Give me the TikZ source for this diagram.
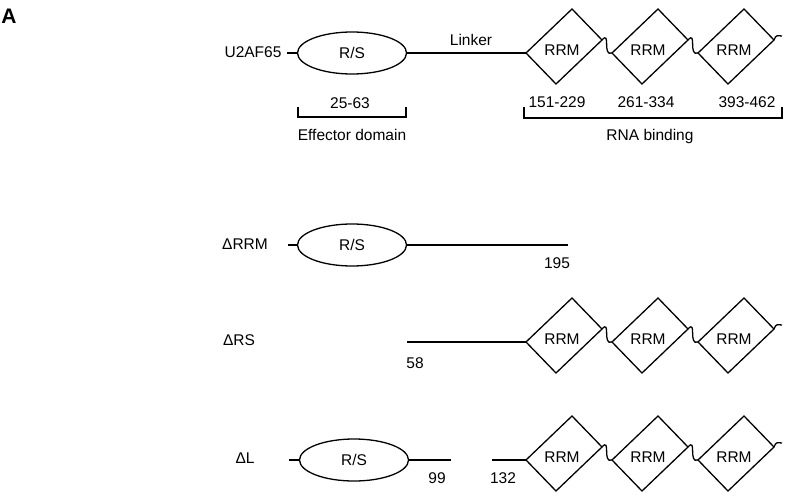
\documentclass[tikz,border=0pt]{standalone}
\usepackage{fontspec}
\setmainfont{Liberation Sans}
\usetikzlibrary{shapes.geometric}
\tikzset{
  every node/.style={inner sep=0pt, font=\fontsize{15.5}{18}\selectfont},
  rsdomain/.style={draw, ellipse, minimum width=109pt, minimum height=42pt},
}
\begin{document}
\begin{tikzpicture}[x=1pt, y=-1pt, line width=1.3pt]
	\useasboundingbox (0,0) rectangle (800,500);
	\node[font=\fontsize{21}{24}\selectfont\bfseries] (panel) at (9,16) {A};
	\foreach \row/\yy in {u/53, s/342, l/460} {
		\foreach \k/\xx in {1/526, 2/612, 3/698} {
			\coordinate (\row\k) at (\xx,\yy);
			\draw (\row\k) -- ++(46,-44) -- ++(30,31) coordinate (\row\k e) -- ++(-46,44) -- cycle;
			\path (\row\k) ++(36,-3) node (\row\k t) {RRM};
		}
		\foreach \k/\j in {1/2, 2/3}
			\draw (\row\k e) .. controls +(9,-10) and +(-10,4) .. (\row\j);
		\path (\row3e) ++(8,-4) coordinate (\row z);
		\draw (\row3e) .. controls +(2,-6) and +(-4,0) .. (\row z);
	}
	\node (u2af65) at (253,52) {U2AF65};
	\coordinate (u0) at (287,53);
	\node[rsdomain] (rs1) at (352,53) {R/S};
	\draw (u0) -- (rs1.west);
	\draw (rs1.east) -- (u1);
	\node (linker) at (471,40) {Linker};
	\node (n25) at (350,103) {25-63};
	\node (n151) at (557,102) {151-229};
	\node (n261) at (646,102) {261-334};
	\node (n393) at (747,102) {393-462};
	\draw (298,107) -- (298,117) -- (406,117) -- (406,107);
	\draw (524,107) -- (524,118) -- (782,118) -- (782,107);
	\node (effector) at (352,135) {Effector domain};
	\node (rnabind) at (650,136) {RNA binding};
	\node (drrm) at (245,244) {ΔRRM};
	\coordinate (r0) at (288,245);
	\node[rsdomain] (rs2) at (352,245) {R/S};
	\coordinate (r195) at (568,245);
	\draw (r0) -- (rs2.west);
	\draw (rs2.east) -- (r195);
	\node (n195) at (557,263) {195};
	\node (drs) at (239,340) {ΔRS};
	\coordinate (s58) at (407,342);
	\draw (s58) -- (s1);
	\node (n58) at (415,363) {58};
	\node (dl) at (245,458) {ΔL};
	\coordinate (l0) at (289,460);
	\node[rsdomain] (rs3) at (354,460) {R/S};
	\coordinate (l99) at (451,460);
	\coordinate (l132) at (492,460);
	\draw (l0) -- (rs3.west);
	\draw (rs3.east) -- (l99);
	\draw (l132) -- (l1);
	\node (n99) at (437,478) {99};
	\node (n132) at (503,478) {132};
\end{tikzpicture}
\end{document}
